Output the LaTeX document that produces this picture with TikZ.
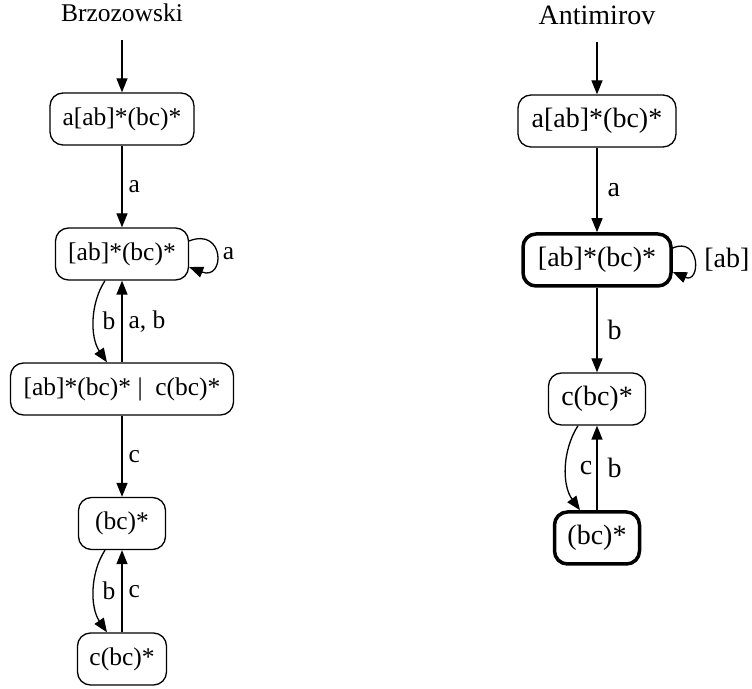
\documentclass[tikz,border=0pt]{standalone}
\usepackage{fontspec}
\setmainfont{Liberation Serif}
\usetikzlibrary{arrows.meta}
\begin{document}
\begin{tikzpicture}[x=1pt,y=1pt,
  state/.style={draw, rounded corners=13pt, minimum height=52pt,
    inner xsep=11pt, inner ysep=0pt, line width=1.3pt},
  accept/.style={state, line width=3.5pt},
  edge/.style={-{Triangle[length=14pt,width=11pt]}, line width=1.3pt},
  lab/.style={anchor=west, inner sep=0pt},
  lfont/.style={font=\fontsize{25.5}{30}\selectfont},
  rfont/.style={font=\fontsize{28}{33}\selectfont}]
\useasboundingbox (0,0) rectangle (752,688);

% Brzozowski derivatives
\begin{scope}[every node/.append style={lfont}]
  \node[anchor=base] (tl) at (122,666) {Brzozowski};
  \coordinate (li) at (122,648);
  \node[state, minimum width=144pt] (l1) at (122,569) {a[ab]*(bc)*};
  \node[state, minimum width=133pt] (l2) at (122,434) {[ab]*(bc)*};
  \node[state, minimum width=223pt] (l3) at (122,299) {[ab]*(bc)*\ |\ \ c(bc)*};
  \node[state, minimum width=87pt]  (l4) at (122,164.5) {(bc)*};
  \node[state, minimum width=89pt]  (l5) at (122,29) {c(bc)*};

  \draw[edge] (li) -- (l1);
  \draw[edge] (l1) -- node[lab, xshift=6pt] {a} (l2);
  \draw[edge] (l2.11) .. controls +(36,14) and +(36,-14) ..
    node[lab, xshift=6pt] {a} (l2.-11);
  \draw[edge] ([xshift=-17pt]l2.south) .. controls +(-15,-23) and +(-17,25) ..
    node[lab, xshift=8pt] {b} ([xshift=-15pt]l3.north);
  \draw[edge] (l3) -- node[lab, xshift=6pt] {a, b} (l2);
  \draw[edge] (l3) -- node[lab, xshift=6pt] {c} (l4);
  \draw[edge] ([xshift=-17pt]l4.south) .. controls +(-15,-23) and +(-17,25) ..
    node[lab, xshift=8pt] {b} ([xshift=-15pt]l5.north);
  \draw[edge] (l5) -- node[lab, xshift=6pt] {c} (l4);
\end{scope}

% Antimirov partial derivatives
\begin{scope}[every node/.append style={rfont}]
  \node[anchor=base] (tr) at (597,663) {Antimirov};
  \coordinate (ri) at (597,646);
  \node[state, minimum width=158pt]  (r1) at (597,567) {a[ab]*(bc)*};
  \node[accept, minimum width=148pt] (r2) at (597,428) {[ab]*(bc)*};
  \node[state, minimum width=97pt]   (r3) at (597,289) {c(bc)*};
  \node[accept, minimum width=85pt]  (r4) at (597,150) {(bc)*};

  \draw[edge] (ri) -- (r1);
  \draw[edge] (r1) -- node[lab, xshift=10pt] {a} (r2);
  \draw[edge] (r2.9) .. controls +(28,12) and +(28,-12) ..
    node[lab, xshift=10pt] {[ab]} (r2.-9);
  \draw[edge] (r2) -- node[lab, xshift=10pt] {b} (r3);
  \draw[edge] ([xshift=-19pt]r3.south) .. controls +(-16,-25) and +(-18,25) ..
    node[lab, xshift=13pt] {c} ([xshift=-17pt]r4.north);
  \draw[edge] (r4) -- node[lab, xshift=10pt] {b} (r3);
\end{scope}
\end{tikzpicture}
\end{document}
